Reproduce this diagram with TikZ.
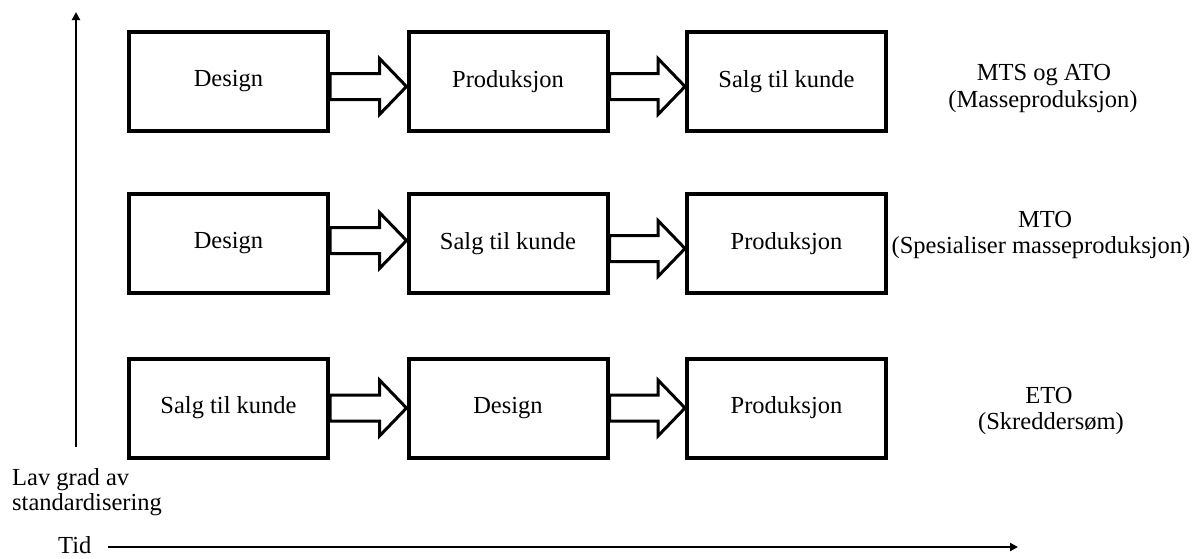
\documentclass[tikz,border=0pt]{standalone}
\usepackage{fontspec}
\setmainfont{Liberation Serif}
\usetikzlibrary{calc,arrows.meta}

% hollow block arrow from the east side of one box to the west side of the next
\newcommand\hollowarrow[3]{%
  \draw[hollow]
    ($(#1.east)+(0,#3-13)$) -- ($(#2.west)+(-27,#3-13)$) --
    ($(#2.west)+(-27,#3-28)$) -- ($(#2.west)+(0,#3)$) --
    ($(#2.west)+(-27,#3+28)$) -- ($(#2.west)+(-27,#3+13)$) --
    ($(#1.east)+(0,#3+13)$) -- cycle;}

\begin{document}
\begin{tikzpicture}[x=1pt,y=-1pt,
  every node/.style={font=\fontsize{24.5}{29}\selectfont, inner sep=0pt},
  stage/.style={draw=black, line width=4pt, minimum width=199pt,
    minimum height=99pt, fill=white},
  hollow/.style={draw=black, fill=white, line width=3pt, line join=miter},
  axis/.style={line width=2pt, -{Triangle[length=8pt,width=8pt]}},
  lbl/.style={anchor=base}]
\useasboundingbox (0,0) rectangle (1196,558);

% row 1: mass production
\node[stage] (d1) at (228.5,81.5) {Design};
\node[stage] (p1) at (508,81.5) {Produksjon};
\node[stage] (s1) at (786.5,81.5) {Salg til kunde};
\hollowarrow{d1}{p1}{5}
\hollowarrow{p1}{s1}{5}

% row 2: make to order
\node[stage] (d2) at (228.5,243.5) {Design};
\node[stage] (s2) at (508,243.5) {Salg til kunde};
\node[stage] (p2) at (786.5,243.5) {Produksjon};
\hollowarrow{d2}{s2}{-3}
\hollowarrow{s2}{p2}{5}

% row 3: engineer to order
\node[stage] (s3) at (228.5,408) {Salg til kunde};
\node[stage] (d3) at (508,408) {Design};
\node[stage] (p3) at (786.5,408) {Produksjon};
\hollowarrow{s3}{d3}{0}
\hollowarrow{d3}{p3}{0}

% strategy labels
\node[lbl] (mts) at (1044,80) {MTS og ATO};
\node[lbl] (mtsb) at (1043,107) {(Masseproduksjon)};
\node[lbl] (mto) at (1045,227) {MTO};
\node[lbl] (mtob) at (1041,253) {(Spesialiser masseproduksjon)};
\node[lbl] (eto) at (1049,403) {ETO};
\node[lbl] (etob) at (1051,429) {(Skreddersøm)};

% axes
\coordinate (ybot) at (76,447);
\coordinate (ytop) at (76,12);
\coordinate (xleft) at (108,547);
\coordinate (xright) at (1018,547);
\draw[axis] (ybot) -- (ytop);
\draw[axis] (xleft) -- (xright);

\node[lbl, anchor=base west] (lav) at (12,485) {Lav grad av};
\node[lbl, anchor=base west] (std) at (12,510) {standardisering};
\node[lbl, anchor=base west] (tid) at (58,553) {Tid};
\end{tikzpicture}
\end{document}
